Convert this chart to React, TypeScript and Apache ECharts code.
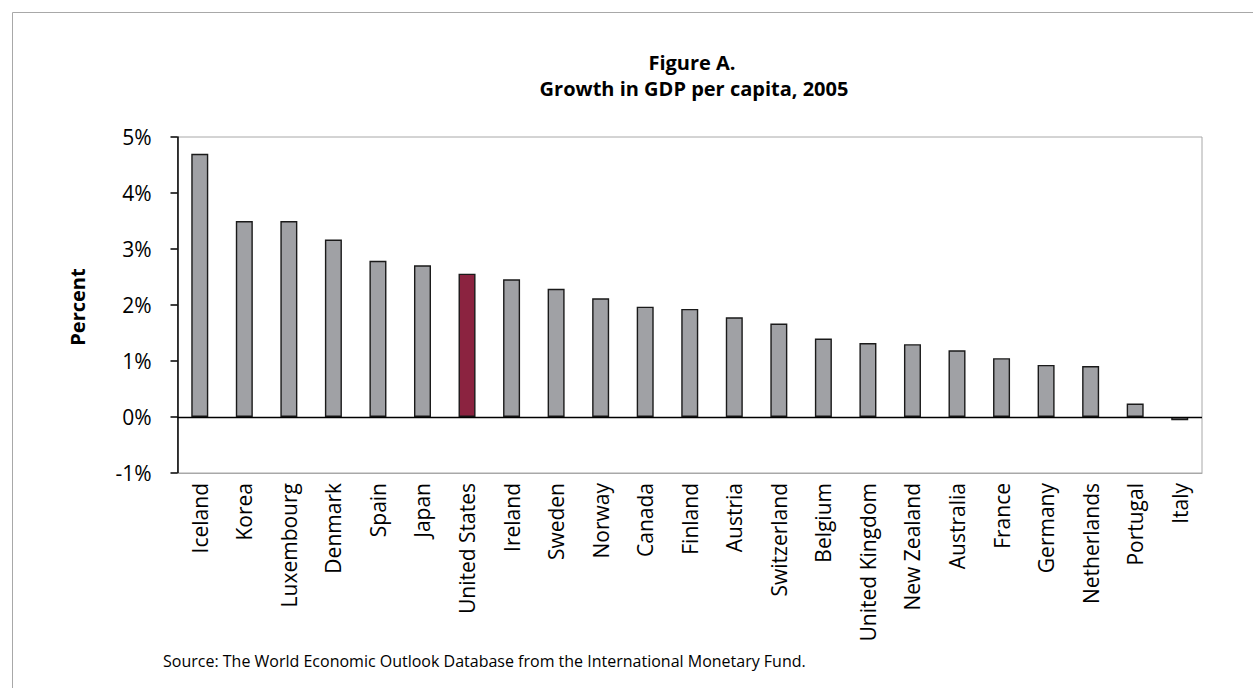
import React, { useEffect, useRef } from "react";
import * as echarts from "echarts";

const categories = [
  "Iceland", "Korea", "Luxembourg", "Denmark", "Spain", "Japan", "United States",
  "Ireland", "Sweden", "Norway", "Canada", "Finland", "Austria", "Switzerland",
  "Belgium", "United Kingdom", "New Zealand", "Australia", "France", "Germany",
  "Netherlands", "Portugal", "Italy",
];
const growth = [
  4.70, 3.50, 3.50, 3.17, 2.79, 2.71, 2.56,
  2.46, 2.29, 2.12, 1.97, 1.93, 1.78, 1.67,
  1.40, 1.32, 1.30, 1.19, 1.05, 0.93,
  0.91, 0.24, -0.06,
];
const highlight = "United States";
const yTicks = [-1, 0, 1, 2, 3, 4, 5];
const titleLines = ["Figure A.", "Growth in GDP per capita, 2005"];
const yAxisName = "Percent";
const sourceText = "Source: The World Economic Outlook Database from the International Monetary Fund.";

const FONT = "'Open Sans', 'Noto Sans', sans-serif";

export default function App() {
  const ref = useRef<HTMLDivElement>(null);
  useEffect(() => {
    if (!ref.current) return;
    const chart = echarts.init(ref.current, null, { renderer: "svg" });
    chart.setOption({
      animation: false,
      backgroundColor: "#ffffff",
      textStyle: { fontFamily: FONT },
      graphic: [
        {
          type: "rect",
          shape: { x: 12.5, y: 12.5, width: 1400, height: 900 },
          style: { fill: "none", stroke: "#a8a8a8", lineWidth: 1 },
          silent: true,
        },
        {
          type: "text",
          x: 692,
          y: 62,
          style: {
            text: titleLines[0],
            font: `bold 20px ${FONT}`,
            fill: "#000",
            align: "center",
            verticalAlign: "middle",
          },
        },
        {
          type: "text",
          x: 694,
          y: 88,
          style: {
            text: titleLines[1],
            font: `bold 20px ${FONT}`,
            fill: "#000",
            align: "center",
            verticalAlign: "middle",
          },
        },
        {
          type: "text",
          x: 77,
          y: 307,
          rotation: Math.PI / 2,
          style: {
            text: yAxisName,
            font: `bold 20px ${FONT}`,
            fill: "#000",
            align: "center",
            verticalAlign: "middle",
          },
        },
        {
          type: "text",
          x: 163,
          y: 661,
          style: {
            text: sourceText,
            font: `16px ${FONT}`,
            fill: "#000",
            align: "left",
            verticalAlign: "middle",
          },
        },
      ],
      grid: {
        left: 177.5,
        top: 137,
        width: 1024.5,
        height: 336,
        show: true,
        borderColor: "#a8a8a8",
        borderWidth: 1,
        containLabel: false,
      },
      xAxis: {
        type: "category",
        data: categories,
        axisLine: { show: true, onZero: false, lineStyle: { color: "#a8a8a8", width: 1 } },
        axisTick: { show: false },
        axisLabel: {
          rotate: 90,
          interval: 0,
          fontSize: 21,
          color: "#000",
          margin: 10,
          fontFamily: FONT,
        },
        splitLine: { show: false },
      },
      yAxis: {
        type: "value",
        min: yTicks[0],
        max: yTicks[yTicks.length - 1],
        interval: 1,
        axisLine: { show: true, lineStyle: { color: "#000", width: 1.5 } },
        axisTick: { show: true, inside: false, length: 7, lineStyle: { color: "#000", width: 1.5 } },
        axisLabel: {
          formatter: (v: number) => `${v}%`,
          fontSize: 21,
          color: "#000",
          margin: 26,
          fontFamily: FONT,
        },
        splitLine: { show: false },
      },
      series: [
        {
          type: "bar",
          barWidth: 17,
          data: growth.map((v, i) => ({
            value: v,
            itemStyle: {
              color: categories[i] === highlight ? "#8b2340" : "#a0a1a5",
              borderColor: "#1a1a1a",
              borderWidth: 1.4,
            },
          })),
          markLine: {
            silent: true,
            symbol: "none",
            label: { show: false },
            lineStyle: { color: "#000", width: 1.3, type: "solid" },
            data: [{ yAxis: 0 }],
          },
        },
      ],
    });
    return () => chart.dispose();
  }, []);
  return (
    <div
      ref={ref}
      style={{ position: "absolute", left: 0, top: 0, width: 1253, height: 688 }}
    />
  );
}
